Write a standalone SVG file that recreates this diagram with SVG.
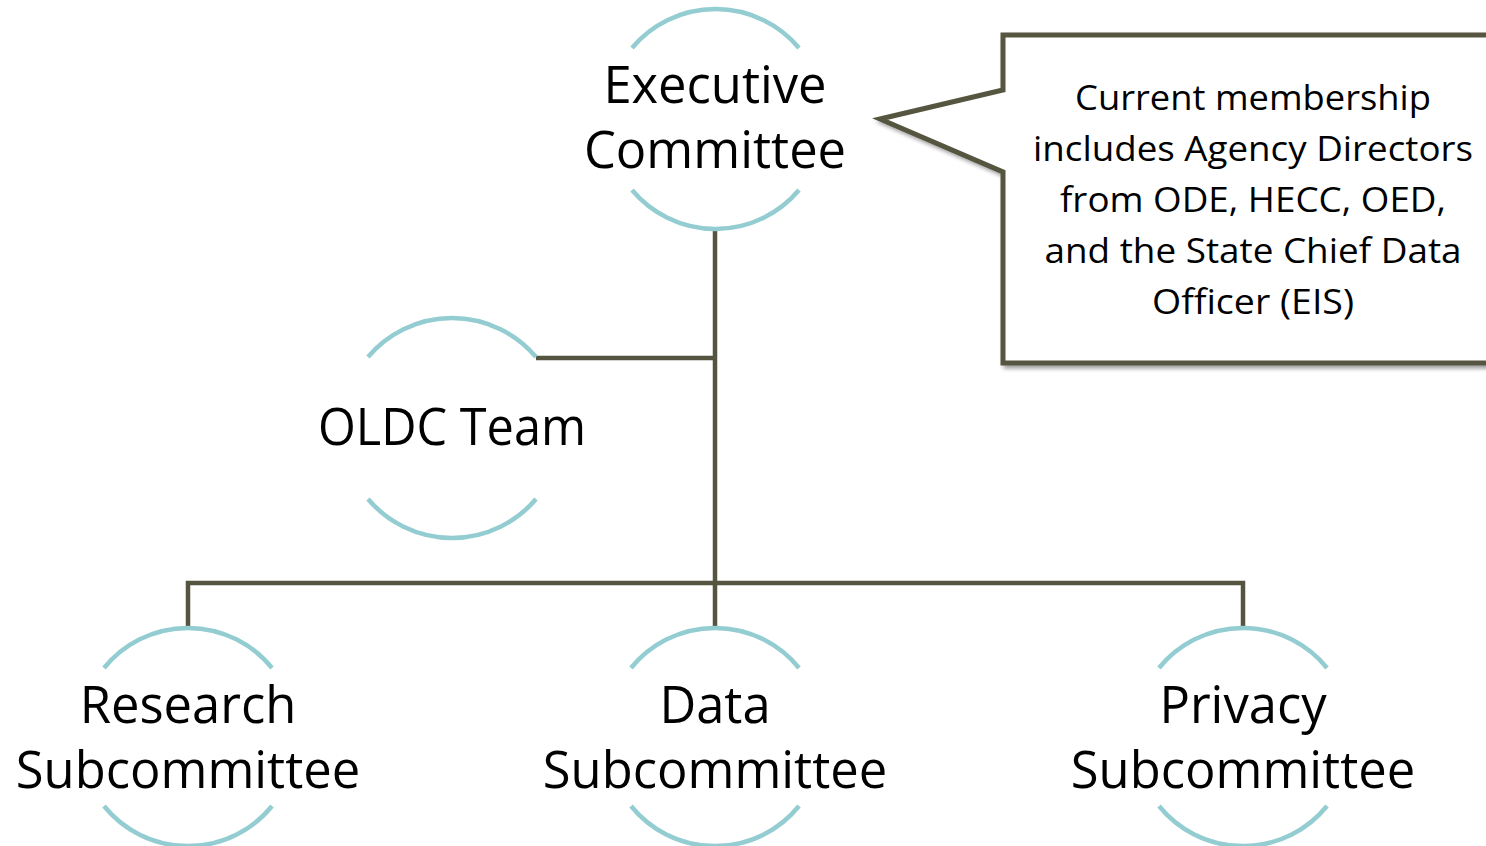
<svg xmlns="http://www.w3.org/2000/svg" width="1486" height="846" viewBox="0 0 1486 846">
<style>
.arc{fill:none;stroke:#93CDD1;stroke-width:4.5}
.con{fill:none;stroke:#545440;stroke-width:4.5}
.lbl{font-family:"Open Sans","Liberation Sans",sans-serif;font-size:50.7px;fill:#000;text-anchor:middle}
.co{font-family:"Open Sans","Liberation Sans",sans-serif;font-size:34px;fill:#000;text-anchor:middle}
</style>
<defs>
<filter id="sh" x="-10%" y="-10%" width="130%" height="130%">
<feGaussianBlur in="SourceAlpha" stdDeviation="2"/>
<feOffset dx="3" dy="3" result="b"/>
<feComponentTransfer><feFuncA type="linear" slope="0.4"/></feComponentTransfer>
<feMerge><feMergeNode/><feMergeNode in="SourceGraphic"/></feMerge>
</filter>
</defs>
<rect width="1486" height="846" fill="#fff"/>
<g id="connectors">
<path class="con" d="M715,228 V583"/>
<path class="con" d="M536,358 H715"/>
<path class="con" d="M188,628 V583 H1243 V628"/>
<path class="con" d="M715,583 V628"/>
</g>
<g id="executive">
<path class="arc" d="M632,48 A109,109 0 0 1 799,48"/>
<path class="arc" d="M632,190 A109,109 0 0 0 799,190"/>
<text class="lbl" x="715" y="103">Executive</text>
<text class="lbl" x="715" y="168">Committee</text>
</g>
<g id="oldc">
<path class="arc" d="M368,357 A110,110 0 0 1 536,357"/>
<path class="arc" d="M368,499 A110,110 0 0 0 536,499"/>
<text class="lbl" x="452" y="445" textLength="268" lengthAdjust="spacingAndGlyphs">OLDC Team</text>
</g>
<g id="research">
<path class="arc" d="M104,668 A108,108 0 0 1 272,668"/>
<path class="arc" d="M104,806 A108,108 0 0 0 272,806"/>
<text class="lbl" x="188" y="723">Research</text>
<text class="lbl" x="188" y="788">Subcommittee</text>
</g>
<g id="data">
<path class="arc" d="M631,668 A108,108 0 0 1 799,668"/>
<path class="arc" d="M631,806 A108,108 0 0 0 799,806"/>
<text class="lbl" x="715" y="723">Data</text>
<text class="lbl" x="715" y="788">Subcommittee</text>
</g>
<g id="privacy">
<path class="arc" d="M1159,668 A108,108 0 0 1 1327,668"/>
<path class="arc" d="M1159,806 A108,108 0 0 0 1327,806"/>
<text class="lbl" x="1243" y="723">Privacy</text>
<text class="lbl" x="1243" y="788">Subcommittee</text>
</g>
<g id="callout">
<path d="M1003,35 H1495 V363 H1003 V172 L880,119 L1003,90 Z" fill="#fff" stroke="#545440" stroke-width="5" stroke-linejoin="miter" filter="url(#sh)"/>
<text class="co" x="1253" y="110" textLength="356" lengthAdjust="spacingAndGlyphs">Current membership</text>
<text class="co" x="1253" y="161" textLength="440" lengthAdjust="spacingAndGlyphs">includes Agency Directors</text>
<text class="co" x="1253" y="212" textLength="386" lengthAdjust="spacingAndGlyphs">from ODE, HECC, OED,</text>
<text class="co" x="1253" y="263" textLength="417" lengthAdjust="spacingAndGlyphs">and the State Chief Data</text>
<text class="co" x="1253" y="314" textLength="202" lengthAdjust="spacingAndGlyphs">Officer (EIS)</text>
</g>
</svg>
